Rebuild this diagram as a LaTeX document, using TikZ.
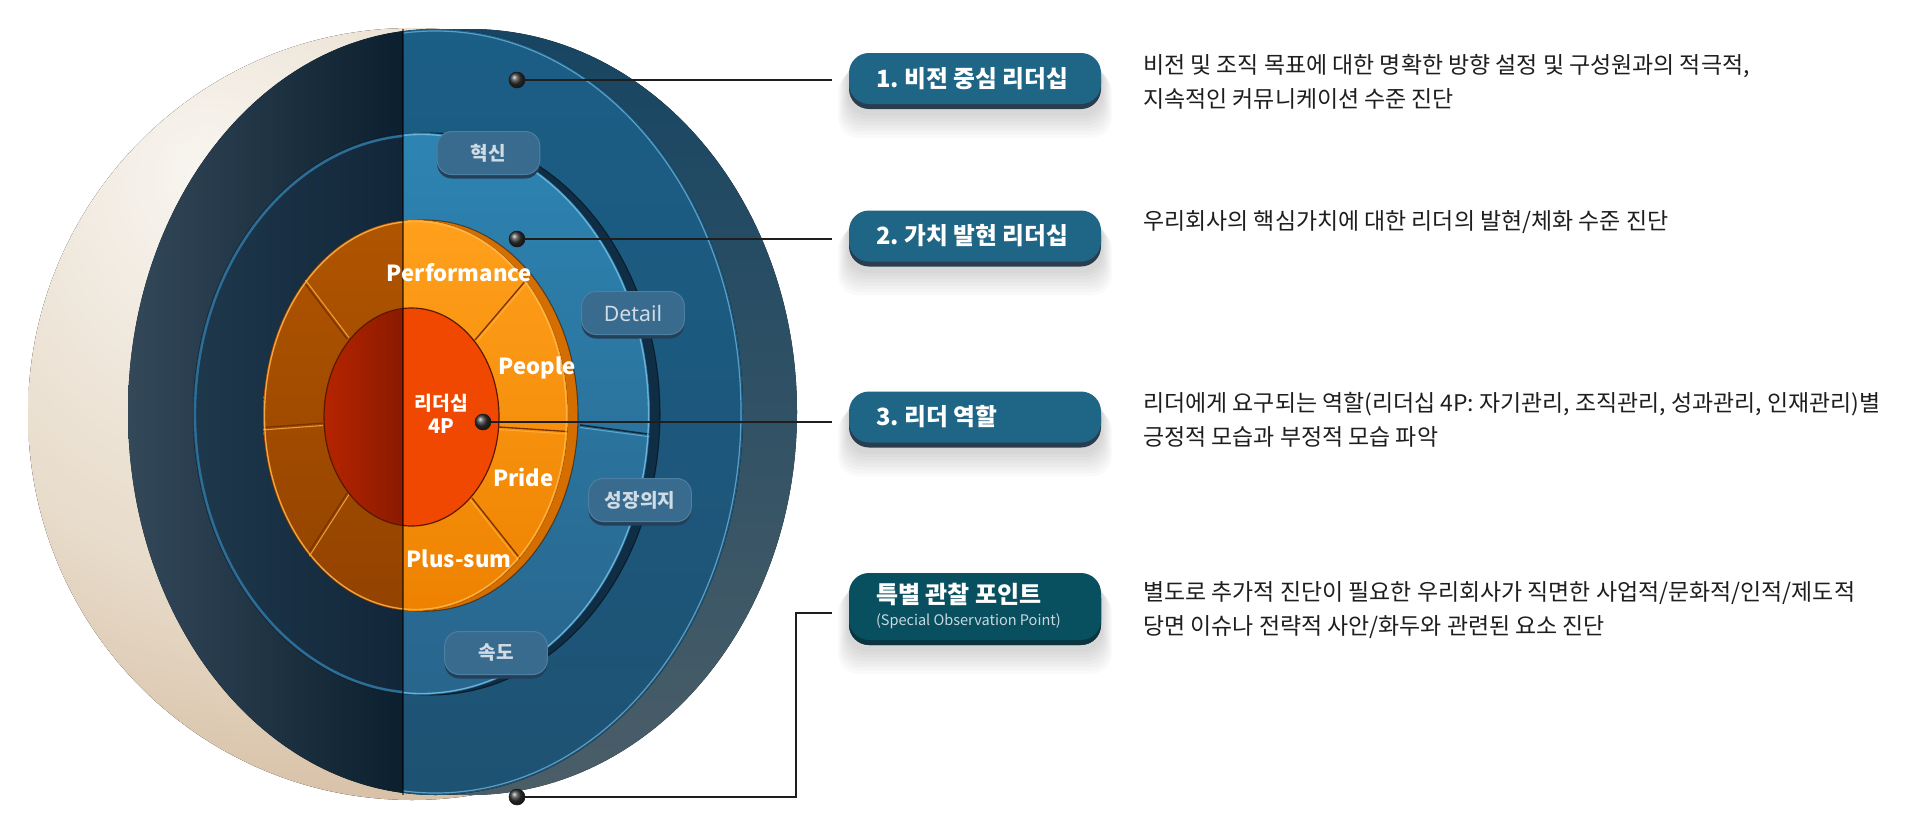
\documentclass[tikz,border=0pt]{standalone}
\usepackage{fontspec}
\setmainfont{Noto Sans CJK KR}
\newfontfamily\lat{Noto Sans}
\usetikzlibrary{shadows}
\definecolor{creamHi}{HTML}{F8F5F0}
\definecolor{creamMid}{HTML}{E8DCCB}
\definecolor{creamLo}{HTML}{C4A07B}
\definecolor{navyL1}{HTML}{34495A}
\definecolor{navyL2}{HTML}{0B1F2E}
\definecolor{blueO1}{HTML}{1B5E86}
\definecolor{blueO2}{HTML}{1E5273}
\definecolor{rimTop}{HTML}{174562}
\definecolor{rimMid}{HTML}{183C52}
\definecolor{rimBot}{HTML}{4B5E68}
\definecolor{hlOuter}{HTML}{5A9EC6}
\definecolor{midL1}{HTML}{1E384C}
\definecolor{midL2}{HTML}{122639}
\definecolor{midR1}{HTML}{2D84B2}
\definecolor{midR2}{HTML}{28658C}
\definecolor{midRim}{HTML}{0F2D44}
\definecolor{hlMid}{HTML}{6AB2DA}
\definecolor{hlMidL}{HTML}{2C6E98}
\definecolor{orL1}{HTML}{B05500}
\definecolor{orL2}{HTML}{934200}
\definecolor{orR1}{HTML}{FFA01C}
\definecolor{orR2}{HTML}{EE8200}
\definecolor{orRim}{HTML}{D46E00}
\definecolor{orHi}{HTML}{FFB850}
\definecolor{segdark}{HTML}{7A3300}
\definecolor{seglight}{HTML}{FFB040}
\definecolor{redL1}{HTML}{B82500}
\definecolor{redL2}{HTML}{8A1A00}
\definecolor{redR}{HTML}{F04800}
\definecolor{redEdge}{HTML}{5A1800}
\definecolor{pill}{HTML}{386B8E}
\definecolor{pilledge}{HTML}{4C7FA2}
\definecolor{pillsh}{HTML}{243F58}
\definecolor{pilltext}{HTML}{CFDBE5}
\definecolor{boxc}{HTML}{1E6586}
\definecolor{boxsh}{HTML}{2A3D4F}
\definecolor{boxfour}{HTML}{08505F}
\definecolor{boxfoursh}{HTML}{0A3440}
\definecolor{subtext}{HTML}{C8D8DE}
\definecolor{ink}{HTML}{1E1E1E}
\pgfdeclareradialshading{creamball}{\pgfpoint{-14bp}{16bp}}{color(0bp)=(creamHi); color(22bp)=(creamMid); color(50bp)=(creamLo); color(80bp)=(creamLo)}
\pgfdeclarelayer{back}
\pgfdeclarelayer{bg}
\pgfsetlayers{back,bg,main}
\newcommand\boxshade[1]{%
  \foreach \k in {1,...,8}{%
    \fill[black,opacity=0.02,rounded corners=15pt]
      ([xshift=-\k*1pt, yshift=-3pt-\k*1.4pt]#1.north west) rectangle
      ([xshift=\k*1pt, yshift=-6pt-\k*2.4pt]#1.south east);}}
\newcommand\indentbox{\hspace*{20.25pt}}
\begin{document}
\frenchspacing
\begin{tikzpicture}[x=0.75pt,y=-0.75pt,
  pillbox/.style={rounded corners=11pt, fill=pill, draw=pilledge, line width=0.75pt,
    minimum width=77pt, minimum height=32.25pt, inner sep=0pt, text=pilltext,
    font=\bfseries\fontsize{14.3}{16}\selectfont, general shadow={fill=pillsh, shadow yshift=-3pt}},
  leadbox/.style={rounded corners=15pt, fill=boxc, text=white,
    font=\bfseries\fontsize{17.8}{16}\selectfont, text width=189pt, inner xsep=0pt,
    inner ysep=0pt, align=flush left, minimum height=38.25pt,
    general shadow={fill=boxsh, shadow yshift=-3.75pt}},
  descr/.style={anchor=west, align=flush left, inner sep=0pt, text=ink, font=\fontsize{17.2}{25.5}\selectfont},
  lbl/.style={anchor=base, text=white, font=\bfseries\fontsize{16.6}{18}\selectfont, inner sep=0pt},
  dot/.style={circle, inner sep=0pt, minimum size=12pt, ball color=black!80, draw=black!90, line width=0.4pt},
  conn/.style={draw=ink, line width=1.1pt},
  seg/.style={draw=segdark, line width=1pt},
  segl/.style={draw=seglight, line width=0.8pt, opacity=0.8},
]
\useasboundingbox (0,0) rectangle (1920,832);
\begin{pgfonlayer}{back}
  \fill[white] (0,0) rectangle (1920,832);
\end{pgfonlayer}

% cream sphere
\fill[shading=creamball] (412,414) ellipse [x radius=384, y radius=386];

% outer ring
\fill[top color=rimTop, middle color=rimMid, bottom color=rimBot] (470,412) ellipse [x radius=327, y radius=383];
\begin{scope}
  \clip (435.5,412) ellipse [x radius=307.5, y radius=383];
  \fill[left color=navyL1, right color=navyL2] (120,20) rectangle (403,800);
  \fill[top color=blueO1, bottom color=blueO2] (403,20) rectangle (750,800);
\end{scope}
\begin{scope}
  \clip (403,0) rectangle (900,832);
  \draw[hlOuter, line width=0.9pt] (435.5,412) ellipse [x radius=305.5, y radius=381];
\end{scope}

% middle ring
\fill[midRim] (431.5,414) ellipse [x radius=228.5, y radius=281];
\draw[black, opacity=0.5, line width=0.8pt] (431.5,414) ellipse [x radius=228.5, y radius=281];
\begin{scope}
  \clip (421.5,414) ellipse [x radius=228.5, y radius=281];
  \fill[left color=midL1, right color=midL2] (190,130) rectangle (403,700);
  \fill[top color=midR1, bottom color=midR2] (403,130) rectangle (655,700);
  \draw[black!60!midR2, line width=1.2pt] (580,425) -- (655,435);
  \draw[hlMid, line width=0.8pt, opacity=0.8] (580,427.5) -- (655,437.5);
\end{scope}
\begin{scope}
  \clip (403,0) rectangle (900,832);
  \draw[hlMid, line width=1pt] (421.5,414) ellipse [x radius=227, y radius=279.5];
\end{scope}
\begin{scope}
  \clip (0,0) rectangle (403,832);
  \draw[hlMidL, line width=1.8pt] (421.5,414) ellipse [x radius=226.5, y radius=279];
\end{scope}

% orange disk
\fill[orRim] (425.5,415.5) ellipse [x radius=152.5, y radius=195.5];
\draw[black, opacity=0.45, line width=0.8pt] (425.5,415.5) ellipse [x radius=152.5, y radius=195.5];
\begin{scope}
  \clip (415.5,415.5) ellipse [x radius=152.5, y radius=195.5];
  \fill[top color=orL1, bottom color=orL2] (260,218) rectangle (403,613);
  \fill[top color=orR1, bottom color=orR2] (403,218) rectangle (570,613);
  \draw[seg] (347,339) -- (300,277);  \draw[segl] (349,337.5) -- (302,275.5);
  \draw[seg] (323,423) -- (255,428);  \draw[segl] (323,425.5) -- (255,430.5);
  \draw[seg] (347,493) -- (302,563);  \draw[segl] (349,494.5) -- (304,564.5);
  \draw[seg] (475,340) -- (527,279);  \draw[segl] (477,341.5) -- (529,280.5);
  \draw[seg] (499,427) -- (575,432);  \draw[segl] (499,429.5) -- (575,434.5);
  \draw[seg] (472,498) -- (526,566);  \draw[segl] (470,499.5) -- (524,567.5);
  \draw[orHi, line width=1pt, opacity=0.85] (415.5,415.5) ellipse [x radius=151, y radius=194];
\end{scope}

% red core
\begin{scope}
  \clip (411.5,417) ellipse [x radius=87.5, y radius=109];
  \fill[left color=redL1, right color=redL2] (320,300) rectangle (403,530);
  \fill[redR] (403,300) rectangle (505,530);
\end{scope}
\draw[redEdge, line width=0.9pt] (411.5,417) ellipse [x radius=87.5, y radius=109];

% split line
\draw[black, opacity=0.55, line width=1.1pt] (403,29) -- (403,795);

% labels on the disk
\node[lbl] (lperf) at (459.5,281.5) {Performance};
\node[lbl] (lpeople) at (537,374) {People};
\node[lbl] (lpride) at (523.5,486.5) {Pride};
\node[lbl] (lplus) at (459,567) {Plus-sum};
\node[anchor=base, text=white, font=\bfseries\fontsize{14.5}{17}\selectfont, inner sep=0pt] (lcore) at (441.5,410.5) {리더십};
\node[anchor=base, text=white, font=\bfseries\fontsize{15}{17}\selectfont, inner sep=0pt] (lcore4p) at (441.5,433) {4P};

% pills
\node[pillbox] (p1) at (488.5,153) {혁신};
\node[pillbox, font=\lat\fontsize{16}{18}\selectfont] (p2) at (633,313) {Detail};
\node[pillbox] (p3) at (640,500) {성장의지};
\node[pillbox] (p4) at (496,653) {속도};

% boxes
\node[leadbox] (b1) at (975,78.5) {\indentbox 1. 비전 중심 리더십};
\node[leadbox] (b2) at (975,236) {\indentbox 2. 가치 발현 리더십};
\node[leadbox] (b3) at (975,417) {\indentbox 3. 리더 역할};
\node[leadbox, fill=boxfour, minimum height=50.25pt, font=\bfseries\fontsize{18}{16.5}\selectfont,
  general shadow={fill=boxfoursh, shadow yshift=-3.75pt}] (b4) at (975,606.5)
  {\indentbox 특별 관찰 포인트\\\indentbox{\mdseries\color{subtext}\fontsize{10.9}{13}\selectfont (Special Observation Point)}};
\begin{pgfonlayer}{bg}
  \boxshade{b1}\boxshade{b2}\boxshade{b3}\boxshade{b4}
\end{pgfonlayer}

% descriptions
\node[descr] (t1) at (1143,81.5) {비전 및 조직 목표에 대한 명확한 방향 설정 및 구성원과의 적극적,\\지속적인 커뮤니케이션 수준 진단};
\node[descr] (t2) at (1143,222) {우리회사의 핵심가치에 대한 리더의 발현/체화 수준 진단};
\node[descr] (t3) at (1143,420) {리더에게 요구되는 역할(리더십 4P: 자기관리, 조직관리, 성과관리, 인재관리)별\\긍정적 모습과 부정적 모습 파악};
\node[descr] (t4) at (1143,610.5) {별도로 추가적 진단이 필요한 우리회사가 직면한 사업적/문화적/인적/제도적\\당면 이슈나 전략적 사안/화두와 관련된 요소 진단};

% connectors
\coordinate (k4) at (796,613);
\draw[conn, shorten >=12.75pt] (517,80) -- (517,80 -| b1.west);
\draw[conn, shorten >=12.75pt] (517,239) -- (517,239 -| b2.west);
\draw[conn, shorten >=12.75pt] (483,422) -- (483,422 -| b3.west);
\draw[conn, shorten >=12.75pt] (517,797) -| (k4) -- (k4 -| b4.west);
\node[dot] (d1) at (517,80) {};
\node[dot] (d2) at (517,239) {};
\node[dot] (d3) at (483,422) {};
\node[dot] (d4) at (517,797) {};
\end{tikzpicture}
\end{document}
